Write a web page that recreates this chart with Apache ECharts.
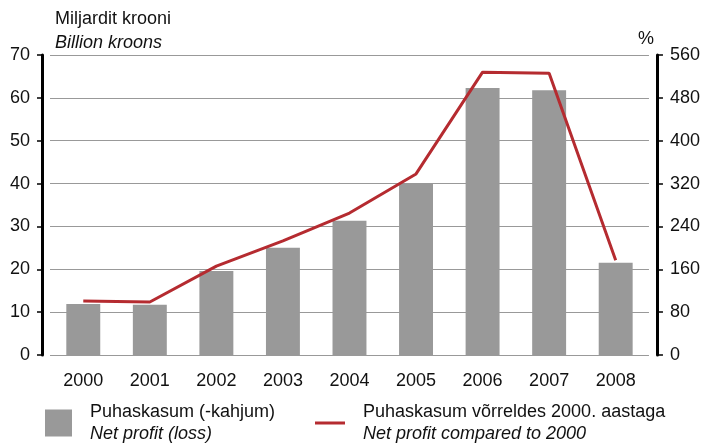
<!DOCTYPE html>
<html>
<head>
<meta charset="utf-8">
<script src="https://cdn.jsdelivr.net/npm/echarts@6/dist/echarts.min.js"></script>
<style>
  html, body { margin: 0; padding: 0; background: #fff; }
  #chart { width: 703px; height: 445px; }
</style>
</head>
<body>
<div id="chart"></div>
<script>
const years = ['2000', '2001', '2002', '2003', '2004', '2005', '2006', '2007', '2008'];
// Puhaskasum, miljardit krooni
const netProfit = [11.9, 11.7, 19.6, 25.0, 31.3, 40.1, 62.3, 61.8, 21.5];
// võrreldes 2000. aastaga, %
const netProfitIndex = [101, 99, 166, 213, 265, 338, 528, 526, 177];

const barName = 'Puhaskasum (-kahjum)';
const lineName = 'Puhaskasum võrreldes 2000. aastaga';
const legendText = {
  [barName]: ['Puhaskasum (-kahjum)', 'Net profit (loss)'],
  [lineName]: ['Puhaskasum võrreldes 2000. aastaga', 'Net profit compared to 2000']
};

const font = '"Liberation Sans", Arial, sans-serif';
const chart = echarts.init(document.getElementById('chart'));

const legendCommon = {
  orient: 'horizontal',
  selectedMode: false,
  padding: 0,
  formatter: name => '{a|' + legendText[name][0] + '}\n{b|' + legendText[name][1] + '}',
  textStyle: {
    rich: {
      a: { fontFamily: font, fontSize: 18, color: '#111', lineHeight: 22, padding: [0, 0, 0, 13] },
      b: { fontFamily: font, fontSize: 18, color: '#111', fontStyle: 'italic', lineHeight: 22, padding: [0, 0, 0, 13] }
    }
  }
};

chart.setOption({
  animation: false,
  textStyle: { fontFamily: font },
  grid: { left: 50, right: 52, top: 55, bottom: 90 },
  graphic: [
    { type: 'text', left: 55, top: 10, style: { text: 'Miljardit krooni', font: '18px ' + font, fill: '#111' } },
    { type: 'text', left: 55, top: 34, style: { text: 'Billion kroons', font: 'italic 18px ' + font, fill: '#111' } },
    { type: 'text', left: 638, top: 30, style: { text: '%', font: '18px ' + font, fill: '#111' } }
  ],
  legend: [
    Object.assign({}, legendCommon, {
      data: [{ name: barName, icon: 'rect' }], left: 45, top: 403, itemWidth: 27, itemHeight: 27
    }),
    Object.assign({}, legendCommon, {
      data: [{ name: lineName, icon: 'rect' }], left: 315, top: 403, itemWidth: 30, itemHeight: 3
    })
  ],
  xAxis: {
    type: 'category',
    data: years,
    axisLine: { show: false },
    axisTick: { show: false },
    axisLabel: { fontSize: 18, color: '#111', margin: 17 }
  },
  yAxis: [
    {
      type: 'value', min: 0, max: 70, interval: 10, offset: 8,
      axisLine: { show: true, lineStyle: { color: '#000', width: 3 } },
      axisTick: { show: true, length: 5, lineStyle: { color: '#000', width: 1.5 } },
      axisLabel: { fontSize: 18, color: '#111', margin: 12 },
      splitLine: { lineStyle: { color: '#999', width: 1.2 } }
    },
    {
      type: 'value', min: 0, max: 560, interval: 80, offset: 8, position: 'right',
      axisLine: { show: true, lineStyle: { color: '#000', width: 3 } },
      axisTick: { show: true, length: 6, lineStyle: { color: '#000', width: 1.5 } },
      axisLabel: { fontSize: 18, color: '#111', margin: 13 },
      splitLine: { show: false }
    }
  ],
  series: [
    {
      name: barName, type: 'bar', data: netProfit, yAxisIndex: 0,
      barWidth: '51%', itemStyle: { color: '#999999' }
    },
    {
      name: lineName, type: 'line', data: netProfitIndex, yAxisIndex: 1,
      showSymbol: false, symbol: 'none',
      lineStyle: { color: '#b52b30', width: 3 },
      itemStyle: { color: '#b52b30' }
    }
  ]
});
</script>
</body>
</html>
